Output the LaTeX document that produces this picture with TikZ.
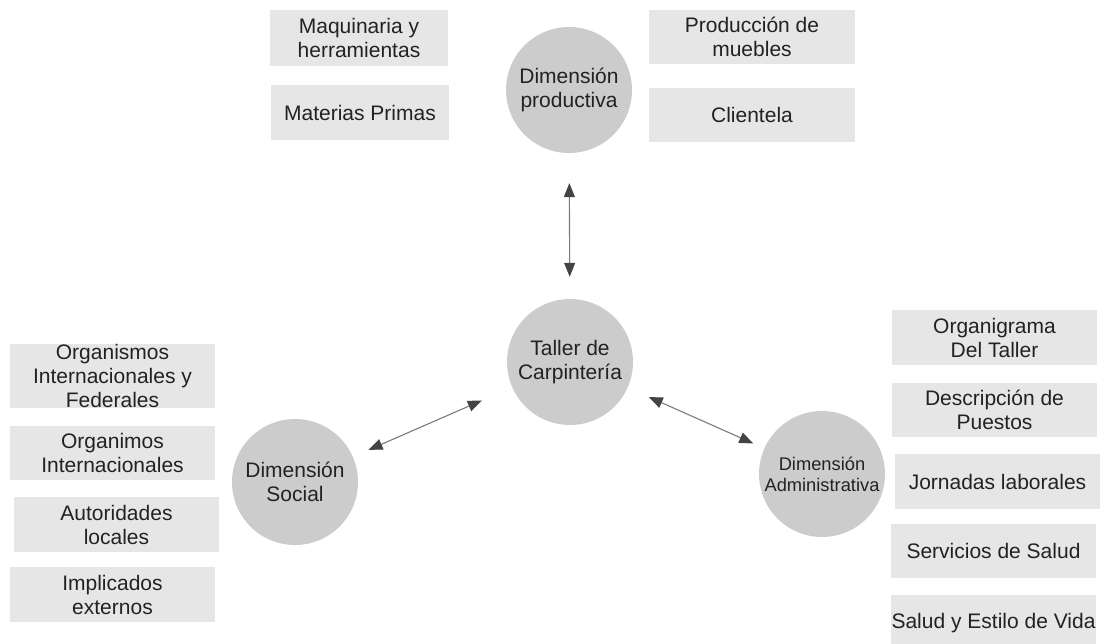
\documentclass[tikz,border=0pt]{standalone}
\usepackage{fontspec}
\setmainfont{Liberation Sans}
\usetikzlibrary{arrows.meta}
\definecolor{boxgray}{HTML}{E6E6E6}
\definecolor{circgray}{HTML}{CCCCCC}
\definecolor{txt}{HTML}{222222}
\definecolor{arrline}{HTML}{7A7A7A}
\definecolor{arrhead}{HTML}{444444}
\begin{document}
\begin{tikzpicture}[x=1pt,y=-1pt,
  every node/.style={text=txt, font=\fontsize{21}{24}\selectfont, align=center, inner sep=0pt},
  itembox/.style={fill=boxgray, minimum width=#1, minimum height=55pt},
  itembox/.default=206pt,
  dimcirc/.style={circle, fill=circgray, minimum size=126pt},
  biarrow/.style={draw=arrline, line width=1.1pt,
    {Triangle[length=14pt,width=11pt,color=arrhead]}-{Triangle[length=14pt,width=11pt,color=arrhead]}}
]
\useasboundingbox (0,0) rectangle (1105,644);

% circles
\node[dimcirc] (prod) at (569,90) {Dimensión\\productiva};
\node[dimcirc] (taller) at (570,362) {Taller de\\Carpintería};
\node[dimcirc] (social) at (295,482) {Dimensión\\Social};
\node[dimcirc, font=\fontsize{18.3}{21}\selectfont] (admin) at (822,474) {Dimensión\\Administrativa};

% top boxes
\node[itembox=178pt, minimum height=56pt] (maq) at (359,38) {Maquinaria y\\herramientas};
\node[itembox=178pt] (mat) at (360,112.5) {Materias Primas};
\node[itembox, minimum height=54pt] (pmu) at (752,37) {Producción de\\muebles};
\node[itembox, minimum height=54pt] (cli) at (752,115) {Clientela};

% left boxes
\node[itembox=205pt, minimum height=64pt] (oif) at (112.5,376) {Organismos\\Internacionales y\\Federales};
\node[itembox=205pt, minimum height=54pt] (oi) at (112.5,453) {Organimos\\Internacionales};
\node[itembox=205pt] (al) at (116.5,524.5) {Autoridades\\locales};
\node[itembox=205pt] (ie) at (112.5,594.5) {Implicados\\externos};

% right boxes
\node[itembox=205pt] (org) at (994.5,337.5) {Organigrama\\Del Taller};
\node[itembox=205pt, minimum height=54pt] (des) at (994.5,410) {Descripción de\\Puestos};
\node[itembox=205pt] (jor) at (997.5,481.5) {Jornadas laborales};
\node[itembox=205pt, minimum height=54pt] (ser) at (993.5,551) {Servicios de Salud};
\node[itembox=205pt, minimum height=56pt] (sal) at (993.5,623) {Salud y Estilo de Vida};

% arrows
\draw[biarrow, shorten <=30pt, shorten >=22pt] (prod) -- (taller);
\draw[biarrow, shorten <=33pt, shorten >=17pt] (taller) -- (social);
\draw[biarrow, shorten <=23pt, shorten >=12pt] (taller) -- (admin);
\end{tikzpicture}
\end{document}
